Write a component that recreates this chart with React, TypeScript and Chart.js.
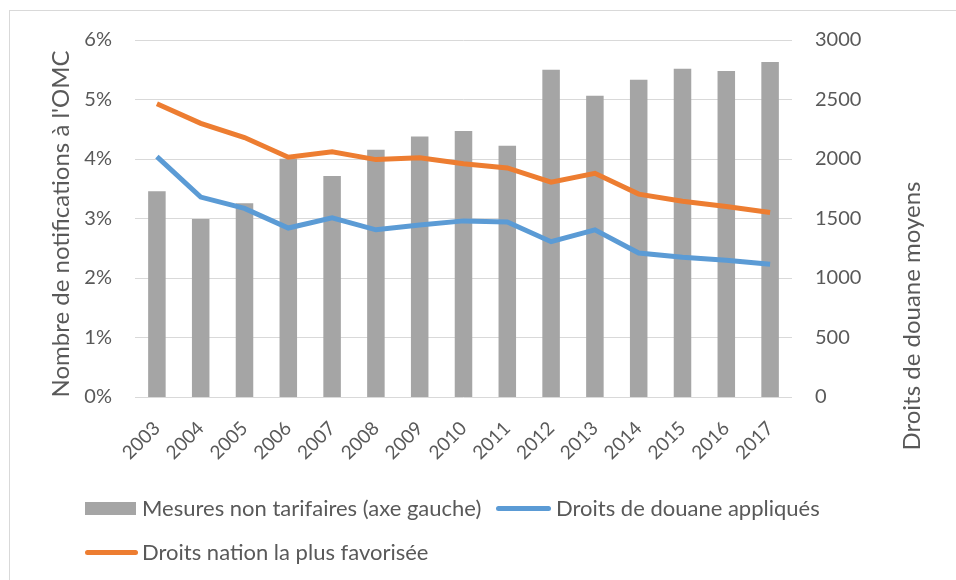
import React, { useEffect, useRef } from "react";
import { Chart, registerables } from "chart.js";

Chart.register(...registerables);

const years = ["2003","2004","2005","2006","2007","2008","2009","2010","2011","2012","2013","2014","2015","2016","2017"];
const mesuresNonTarifaires = [1729,1496,1628,2003,1857,2078,2190,2235,2112,2750,2532,2666,2759,2739,2815];
const droitsAppliques = [4.04,3.36,3.17,2.84,3.01,2.81,2.89,2.96,2.94,2.61,2.81,2.42,2.35,2.30,2.23];
const droitsNPF = [4.93,4.60,4.36,4.03,4.12,3.99,4.02,3.92,3.85,3.61,3.76,3.41,3.29,3.20,3.10];

const leftTitle = "Nombre de notifications à l'OMC";
const rightTitle = "Droits de douane moyens";
const legendBar = "Mesures non tarifaires (axe gauche)";
const legendBlue = "Droits de douane appliqués";
const legendOrange = "Droits nation la plus favorisée";

const GRAY = "#a5a5a5";
const BLUE = "#5b9bd5";
const ORANGE = "#ed7d31";
const TEXT = "#595959";
const FONT = "Lato";

const titlesPlugin = {
  id: "titles",
  afterDraw(chart: any) {
    const ctx = chart.ctx;
    ctx.save();
    ctx.fillStyle = TEXT;
    ctx.font = `24px ${FONT}`;
    ctx.textAlign = "center";
    ctx.textBaseline = "middle";
    ctx.save();
    ctx.translate(61, 224);
    ctx.rotate(-Math.PI / 2);
    ctx.fillText(leftTitle, 0, 0);
    ctx.restore();
    ctx.save();
    ctx.translate(912, 316);
    ctx.rotate(-Math.PI / 2);
    ctx.fillText(rightTitle, 0, 0);
    ctx.restore();
    ctx.restore();
  },
};

export default function App() {
  const ref = useRef<HTMLCanvasElement>(null);
  useEffect(() => {
    const chart = new Chart(ref.current!, {
      type: "bar",
      data: {
        labels: years,
        datasets: [
          {
            type: "line",
            label: legendBlue,
            data: droitsAppliques,
            borderColor: BLUE,
            backgroundColor: BLUE,
            borderWidth: 5,
            pointRadius: 0,
            yAxisID: "y",
            order: 1,
            tension: 0,
          } as any,
          {
            type: "line",
            label: legendOrange,
            data: droitsNPF,
            borderColor: ORANGE,
            backgroundColor: ORANGE,
            borderWidth: 5,
            pointRadius: 0,
            yAxisID: "y",
            order: 2,
            tension: 0,
          } as any,
          {
            type: "bar",
            label: legendBar,
            data: mesuresNonTarifaires,
            backgroundColor: GRAY,
            yAxisID: "y1",
            barPercentage: 0.4,
            categoryPercentage: 1,
            order: 3,
          },
        ],
      },
      plugins: [titlesPlugin],
      options: {
        responsive: false,
        animation: false,
        layout: { padding: { left: 0, right: 0, top: 40, bottom: 93 } },
        plugins: {
          legend: { display: false },
          tooltip: { enabled: false },
        },
        scales: {
          x: {
            grid: { display: false },
            border: { display: false },
            ticks: {
              color: TEXT,
              font: { family: FONT, size: 19 },
              maxRotation: 45,
              minRotation: 45,
              padding: 12,
            },
            afterFit: (s: any) => { s.height = 90; },
          },
          y: {
            position: "left",
            min: 0,
            max: 6,
            grid: { color: "#d9d9d9", lineWidth: 1, drawTicks: false },
            border: { display: false },
            ticks: {
              stepSize: 1,
              color: TEXT,
              font: { family: FONT, size: 20 },
              padding: 23,
              callback: (v: any) => `${v}%`,
            },
            afterFit: (s: any) => { s.width = 135; },
          },
          y1: {
            position: "right",
            min: 0,
            max: 3000,
            grid: { display: false, drawTicks: false },
            border: { display: false },
            ticks: {
              stepSize: 500,
              color: TEXT,
              font: { family: FONT, size: 20 },
              padding: 23,
              callback: (v: any) => String(v),
            },
            afterFit: (s: any) => { s.width = 164; },
          },
        },
      },
    });
    return () => chart.destroy();
  }, []);

  const textStyle: React.CSSProperties = {
    position: "absolute",
    fontFamily: FONT,
    fontSize: 22,
    color: TEXT,
    lineHeight: "26px",
    whiteSpace: "nowrap",
  };

  return (
    <div style={{ position: "fixed", left: 0, top: 0, width: 956, height: 580, overflow: "hidden", background: "#fff" }}>
      <div style={{ position: "absolute", left: 9, top: 10, width: 2000, height: 2000, borderLeft: "1px solid #d9d9d9", borderTop: "1px solid #d9d9d9" }} />
      <canvas ref={ref} width={956} height={580} style={{ position: "absolute", left: 0, top: 0 }} />
      <div style={{ position: "absolute", left: 85, top: 502, width: 51, height: 13, background: GRAY }} />
      <div style={{ ...textStyle, left: 142, top: 495 }}>{legendBar}</div>
      <div style={{ position: "absolute", left: 496, top: 506, width: 55, height: 5, borderRadius: 3, background: BLUE }} />
      <div style={{ ...textStyle, left: 556, top: 495 }}>{legendBlue}</div>
      <div style={{ position: "absolute", left: 85, top: 550, width: 53, height: 5, borderRadius: 3, background: ORANGE }} />
      <div style={{ ...textStyle, left: 142, top: 539 }}>{legendOrange}</div>
    </div>
  );
}
